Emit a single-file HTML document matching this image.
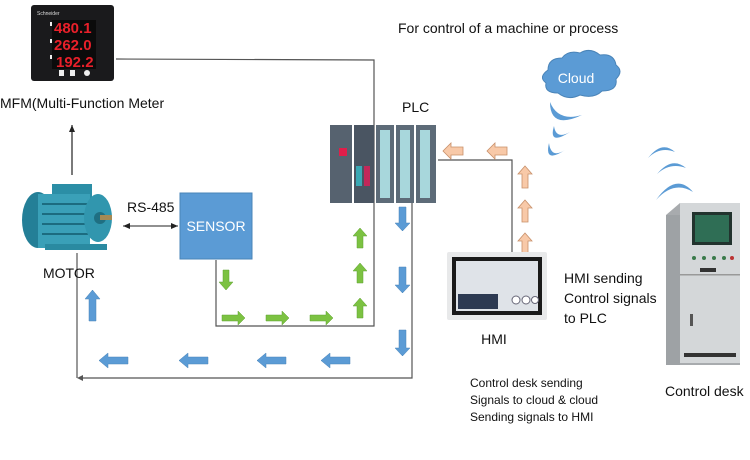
<!DOCTYPE html>
<html><head><meta charset="utf-8"><style>
html,body{margin:0;padding:0;background:#fff;width:750px;height:460px;overflow:hidden}
svg{display:block}
text{font-family:"Liberation Sans",sans-serif}
</style></head><body>
<svg width="750" height="460" viewBox="0 0 750 460" xmlns="http://www.w3.org/2000/svg">
<defs>
<marker id="ah" markerWidth="8" markerHeight="8" refX="7" refY="4" orient="auto-start-reverse" markerUnits="userSpaceOnUse"><path d="M0,1 L7,4 L0,7 Z" fill="#222"/></marker>
</defs>
<rect width="750" height="460" fill="#fff"/>

<!-- MFM meter -->
<rect x="31" y="5" width="83" height="76" rx="3" fill="#1a1a1c"/>
<text x="37" y="15" font-size="5" fill="#ddd">Schneider</text>
<rect x="52" y="20" width="44" height="49" fill="#0b0b0b"/>
<text x="54" y="33" font-size="15" font-weight="bold" fill="#e8202a">480.1</text>
<text x="54" y="50" font-size="15" font-weight="bold" fill="#e8202a">262.0</text>
<text x="56" y="67" font-size="15" font-weight="bold" fill="#e8202a">192.2</text>
<rect x="70" y="70" width="5" height="6" fill="#eee"/><rect x="59" y="70" width="5" height="6" fill="#eee"/><circle cx="87" cy="73" r="3" fill="#eee"/>
<rect x="50" y="22" width="2" height="4" fill="#eee"/><rect x="50" y="39" width="2" height="4" fill="#eee"/><rect x="50" y="55" width="2" height="4" fill="#eee"/>
<text x="0" y="108" font-size="14" fill="#111">MFM(Multi-Function Meter</text>

<!-- lines -->
<g stroke="#555" stroke-width="1.2" fill="none">
<polyline points="116,59 374,60 374,326 216,326 216,260"/>
<polyline points="412,203 412,378 80,378"/>
<line x1="77" y1="378" x2="77" y2="253"/>
<polyline points="438,160 512,160 512,252"/>
</g>
<path d="M77,378 l6,-3 v6 z" fill="#555"/>
<line x1="72" y1="175" x2="72" y2="125" stroke="#222" stroke-width="1.2" marker-end="url(#ah)"/>
<line x1="123" y1="226" x2="178" y2="226" stroke="#222" stroke-width="1" marker-start="url(#ah)" marker-end="url(#ah)"/>

<!-- Motor -->
<g>
<rect x="52" y="184" width="40" height="18" fill="#2b8ea6"/>
<ellipse cx="38" cy="220" rx="16" ry="28" fill="#247f97"/>
<rect x="38" y="194" width="52" height="54" fill="#3aa0b8"/>
<g stroke="#1c6c80" stroke-width="2"><line x1="42" y1="204" x2="88" y2="204"/><line x1="42" y1="214" x2="88" y2="214"/><line x1="42" y1="224" x2="88" y2="224"/><line x1="42" y1="234" x2="88" y2="234"/></g>
<ellipse cx="98" cy="218" rx="14" ry="24" fill="#3196ae"/>
<circle cx="100" cy="218" r="6" fill="#1f6f82"/>
<rect x="100" y="215" width="12" height="5" fill="#a58a55"/>
<rect x="45" y="244" width="62" height="6" fill="#2a8aa1"/>
</g>
<text x="43" y="278" font-size="14" fill="#111">MOTOR</text>
<text x="127" y="212" font-size="14" fill="#111">RS-485</text>

<!-- Sensor -->
<rect x="180" y="193" width="72" height="66" fill="#5b9bd5" stroke="#4a84b8"/>
<text x="216" y="231" font-size="14" fill="#fff" text-anchor="middle">SENSOR</text>

<!-- PLC -->
<g>
<rect x="330" y="125" width="22" height="78" fill="#56626f"/>
<rect x="339" y="148" width="8" height="8" fill="#e01e4a"/>
<rect x="354" y="125" width="20" height="78" fill="#4a5562"/>
<rect x="356" y="166" width="6" height="20" fill="#3aa8b4"/><rect x="364" y="166" width="6" height="20" fill="#c2285a"/>
<rect x="376" y="125" width="18" height="78" fill="#5d6b78"/>
<rect x="396" y="125" width="18" height="78" fill="#5d6b78"/>
<rect x="416" y="125" width="20" height="78" fill="#5d6b78"/>
<rect x="380" y="130" width="10" height="68" fill="#a8d7dc"/>
<rect x="400" y="130" width="10" height="68" fill="#a8d7dc"/>
<rect x="420" y="130" width="10" height="68" fill="#a8d7dc"/>
</g>
<text x="402" y="112" font-size="14" fill="#111">PLC</text>
<text x="398" y="33" font-size="14" fill="#111">For control of a machine or process</text>

<!-- blue arrows -->
<g fill="#5b9bd5" stroke="#4a84b8" stroke-width="0.5">
<path d="M399,207 h7 v16 h4 l-7.5,8 l-7.5,-8 h4 z"/>
<path d="M399,267 h7 v18 h4 l-7.5,8 l-7.5,-8 h4 z"/>
<path d="M399,330 h7 v18 h4 l-7.5,8 l-7.5,-8 h4 z"/>
<path d="M350,357 v7 h-20 v4 l-9,-7.5 l9,-7.5 v4 z"/>
<path d="M286,357 v7 h-20 v4 l-9,-7.5 l9,-7.5 v4 z"/>
<path d="M208,357 v7 h-20 v4 l-9,-7.5 l9,-7.5 v4 z"/>
<path d="M128,357 v7 h-20 v4 l-9,-7.5 l9,-7.5 v4 z"/>
<path d="M89,321 h7 v-22 h4 l-7.5,-9 l-7.5,9 h4 z"/>
</g>
<!-- green arrows -->
<g fill="#7cc242" stroke="#5fa030" stroke-width="0.5">
<path d="M223,270 h6 v12 h4 l-7,8 l-7,-8 h4 z"/>
<path d="M222,315 h16 v-4 l7,7 l-7,7 v-4 h-16 z"/>
<path d="M266,315 h16 v-4 l7,7 l-7,7 v-4 h-16 z"/>
<path d="M310,315 h16 v-4 l7,7 l-7,7 v-4 h-16 z"/>
<path d="M357,248 h6 v-12 h4 l-7,-8 l-7,8 h4 z"/>
<path d="M357,283 h6 v-12 h4 l-7,-8 l-7,8 h4 z"/>
<path d="M357,318 h6 v-12 h4 l-7,-8 l-7,8 h4 z"/>
</g>
<!-- peach arrows -->
<g fill="#f8c9a8" stroke="#c8906a" stroke-width="0.8">
<path d="M463,147 v8 h-12 v4 l-8,-8 l8,-8 v4 z"/>
<path d="M507,147 v8 h-12 v4 l-8,-8 l8,-8 v4 z"/>
<path d="M522,188 h6 v-14 h4 l-7,-8 l-7,8 h4 z"/>
<path d="M522,222 h6 v-14 h4 l-7,-8 l-7,8 h4 z"/>
<path d="M522,255 h6 v-14 h4 l-7,-8 l-7,8 h4 z"/>
</g>

<!-- HMI -->
<rect x="447" y="252" width="100" height="68" rx="2" fill="#e8e9ea"/>
<rect x="452" y="257" width="90" height="58" fill="#1a1a1a"/>
<rect x="456" y="261" width="82" height="50" fill="#dfe3e8"/>
<rect x="458" y="294" width="40" height="15" fill="#2d3a52"/>
<circle cx="516" cy="300" r="4" fill="#fff" stroke="#667"/><circle cx="526" cy="300" r="4" fill="#fff" stroke="#667"/><circle cx="535" cy="300" r="3.5" fill="#fff" stroke="#667"/>
<text x="494" y="344" font-size="14" fill="#111" text-anchor="middle">HMI</text>
<text font-size="14" fill="#111"><tspan x="564" y="283">HMI sending</tspan><tspan x="564" y="303">Control signals</tspan><tspan x="564" y="323">to PLC</tspan></text>
<text font-size="12" fill="#111"><tspan x="470" y="387">Control desk sending</tspan><tspan x="470" y="404">Signals to cloud &amp; cloud</tspan><tspan x="470" y="421">Sending signals to HMI</tspan></text>

<!-- Control desk -->
<g>
<polygon points="666,215 680,203 740,203 740,365 666,365" fill="#a8abae"/>
<rect x="680" y="203" width="60" height="160" fill="#d4d7d9"/>
<rect x="666" y="215" width="14" height="150" fill="#9ea2a5"/>
<rect x="692" y="212" width="40" height="33" fill="#22332e"/>
<rect x="695" y="215" width="34" height="27" fill="#2f6e55"/>
<g fill="#3a7a4a"><circle cx="694" cy="258" r="2"/><circle cx="704" cy="258" r="2"/><circle cx="714" cy="258" r="2"/><circle cx="724" cy="258" r="2"/><circle cx="732" cy="258" r="2" fill="#b33"/></g>
<rect x="700" y="268" width="16" height="4" fill="#333"/>
<rect x="680" y="274" width="60" height="1.5" fill="#999"/>
<rect x="690" y="314" width="3" height="12" fill="#555"/>
<rect x="684" y="353" width="52" height="4" fill="#333"/>
</g>
<text x="665" y="396" font-size="14" fill="#111">Control desk</text>

<!-- Cloud -->
<path d="M548,70 q0,-12 14,-12 q6,-8 18,-5 q10,-6 20,2 q14,-2 16,10 q8,6 0,14 q2,12 -14,12 q-8,8 -22,4 q-12,6 -22,-2 q-14,0 -12,-10 q-8,-6 2,-13 z" fill="#5b9bd5" stroke="#4a84b8"/>
<text x="576" y="83" font-size="14" fill="#fff" text-anchor="middle">Cloud</text>
<g fill="#5b9bd5">
<path d="M550,102 Q550,130 582,115 Q558,122 550,102 z"/>
<path d="M554,126 Q548,146 570,132 Q556,140 554,126 z"/>
<path d="M549,143 Q544,164 565,150 Q551,159 549,143 z"/>
<path d="M648,158 Q662,140 675,152 Q660,146 648,158 z"/>
<path d="M657,174 Q672,156 686,168 Q670,162 657,174 z"/>
<path d="M656,200 Q676,172 693,192 Q674,180 656,200 z"/>
</g>
</svg>
</body></html>
